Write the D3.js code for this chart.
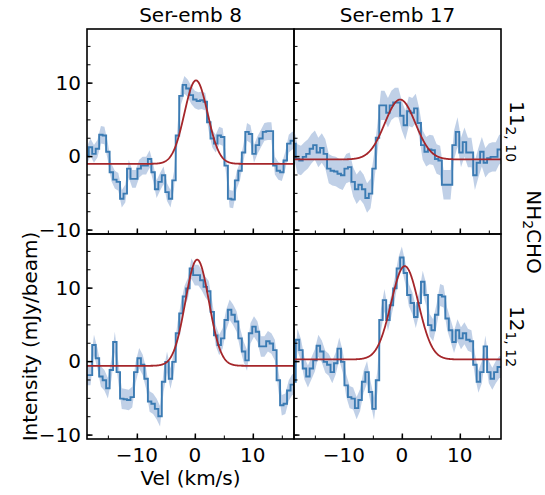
<!DOCTYPE html>
<html><head><meta charset="utf-8">
<script src="https://cdn.jsdelivr.net/npm/d3@7"></script>
<style>body{margin:0;background:#fff}text{font-family:"DejaVu Sans",sans-serif;fill:#000}</style>
</head><body><svg id="c" width="545" height="495"></svg>
<script>
const sources = ["Ser-emb 8", "Ser-emb 17"];
const transitions = [["11", "2, 10"], ["12", "1, 12"]];
const molecule = ["NH", "2", "CHO"];
const channels = [-18.6,-18.0,-17.4,-16.8,-16.2,-15.6,-15.0,-14.4,-13.8,-13.2,-12.6,-12.0,-11.4,-10.8,-10.2,-9.6,-9.0,-8.4,-7.8,-7.2,-6.6,-6.0,-5.4,-4.8,-4.2,-3.6,-3.0,-2.4,-1.8,-1.2,-0.6,0,0.6,1.2,1.8,2.4,3.0,3.6,4.2,4.8,5.4,6.0,6.6,7.2,7.8,8.4,9.0,9.6,10.2,10.8,11.4,12.0,12.6,13.2,13.8,14.4,15.0,15.6,16.2,16.8,17.4];
// spectra (mJy/beam)
const emb8_11 = [0.1,1.2,0.3,1.0,2.9,2.8,0.6,-2.2,-3.2,-3.5,-5.8,-5.1,-1.7,-3.1,-3.1,-1.7,-1.3,-1.3,-0.4,-2.2,-4.5,-3.5,-2.6,-4.9,-5.8,-3.3,2.8,8.2,9.7,9.2,8.3,7.7,7.5,7.6,7.4,4.6,2.4,1.7,2.8,2.6,-1.3,-5.8,-5.9,-3.3,-2.0,0.5,3.3,3.0,0.3,1.5,2.4,3.3,3.4,3.4,-1.3,-2.0,-2.2,-0.6,1.7,2.1,2.1];
const emb17_11 = [1.7,-0.4,-0.6,-0.1,0.3,1.0,1.5,0.5,1.1,0.3,-1.7,-2.0,-2.1,-2.4,-2.6,-1.7,-1.5,-3.5,-4.5,-3.9,-4.5,-5.7,-5.1,-1.7,2.5,6.9,6.9,5.9,6.9,7.3,7.3,5.5,4.2,6.1,5.9,6.5,4.5,1.5,0.6,0.9,0.8,-0.4,-0.6,-3.9,-3.9,-3.9,1.5,3.3,0.5,1.9,0.5,0.5,-2.6,-0.9,0.6,-0.9,-0.3,-0.1,-0.1,0.9,0.9];
const emb8_12 = [-1.9,-1.9,2.2,0.4,-2.1,-2.6,-3.7,-1.2,2.6,-1.5,-5.1,-5.2,-5.3,-4.9,-1.5,0.4,-0.5,-2.4,-5.5,-5.8,-6.5,-7.5,-2.8,-0.1,-2.4,-0.1,3.8,6.5,8.8,9.9,12.6,11.7,11.7,11.0,10.1,9.5,6.7,3.5,2.2,3.1,5.6,7.0,6.3,5.4,3.1,1.3,0.1,3.8,4.7,4.0,2.0,2.0,2.7,2.4,1.5,-2.6,-6.0,-5.8,-4.0,-3.2,-3.2];
const emb17_12 = [-2.8,2.9,1.5,-1.0,-2.1,-1.0,0.1,2.1,1.3,-0.1,-0.5,-1.5,-0.3,1.7,-0.1,-3.3,-4.9,-5.1,-6.4,-5.3,-2.8,-1.5,-4.2,-6.5,-2.6,5.6,8.3,5.6,7.6,9.9,12.6,14.1,12.0,9.0,7.9,6.0,7.9,10.8,9.0,4.9,4.2,6.3,9.0,8.8,5.8,4.2,2.6,4.2,3.1,3.8,2.9,2.7,-0.5,-2.8,-1.5,2.0,-1.5,-2.4,-1.5,-0.8,-0.8];
const noise = [1.2, 2.0, 1.4, 1.5];
// Gaussian fit parameters: amplitude, centre (km/s), sigma (km/s), baseline
const fitAmp = [11.35, 8.15, 14.45, 12.7];
const fitCenter = [0.2, -0.3, 0.4, 0.5];
const fitSigma = [2.0, 2.63, 2.03, 2.35];
const fitBase = [-1.05, -0.45, -0.64, 0.23];
const xTicks = [-10, 0, 10];
const xMinor = [-15, -10, -5, 0, 5, 10, 15];
const yTicks = [-10, 0, 10];
const yMinor = [-10, -7.5, -5, -2.5, 0, 2.5, 5, 7.5, 10, 12.5, 15];

const spectra = [emb8_11, emb17_11, emb8_12, emb17_12];
const svg = d3.select("#c");
const colX = [87, 294], rowY = [29, 234], pw = 207, ph = 205;
const fs = 20;
const lineColor = "#3b7bb3", bandColor = "#aec3e0", fitColor = "#a5262a";

for (let r = 0; r < 2; r++) for (let c = 0; c < 2; c++) {
  const k = r * 2 + c;
  const x = d3.scaleLinear().domain([-18.6, 17.1]).range([colX[c], colX[c] + pw]);
  const y = d3.scaleLinear().domain([-10.6, 17.3]).range([rowY[r] + ph, rowY[r]]);
  const g = svg.append("g");
  const cid = "clip" + k;
  g.append("clipPath").attr("id", cid).append("rect")
    .attr("x", colX[c]).attr("y", rowY[r]).attr("width", pw).attr("height", ph);
  const pg = g.append("g").attr("clip-path", `url(#${cid})`);
  const data = channels.map((v, i) => ({v, f: spectra[k][i]}));
  pg.append("path").datum(data)
    .attr("d", d3.area().x(d => x(d.v)).y0(d => y(d.f - noise[k])).y1(d => y(d.f + noise[k])))
    .attr("fill", bandColor).attr("opacity", 0.78);
  pg.append("path").datum(data)
    .attr("d", d3.line().curve(d3.curveStep).x(d => x(d.v)).y(d => y(d.f)))
    .attr("fill", "none").attr("stroke", lineColor).attr("stroke-width", 1.9);
  const fine = d3.range(-18.6, 17.2, 0.05).map(v => ({v,
    f: fitBase[k] + fitAmp[k] * Math.exp(-((v - fitCenter[k]) ** 2) / (2 * fitSigma[k] ** 2))}));
  pg.append("path").datum(fine)
    .attr("d", d3.line().x(d => x(d.v)).y(d => y(d.f)))
    .attr("fill", "none").attr("stroke", fitColor).attr("stroke-width", 1.8);

  // axes (inward ticks)
  const xa = g.append("g").attr("transform", `translate(0,${rowY[r] + ph})`);
  xa.call(d3.axisBottom(x).tickValues(xMinor).tickSize(-3.5).tickFormat(""));
  xa.append("g").call(d3.axisBottom(x).tickValues(xTicks).tickSize(-5.5).tickFormat(""))
    .selectAll("line").attr("stroke-width", 1.5);
  xa.selectAll(".domain").remove();
  const ya = g.append("g").attr("transform", `translate(${colX[c]},0)`);
  ya.call(d3.axisLeft(y).tickValues(yMinor).tickSize(-3.5).tickFormat(""));
  ya.append("g").call(d3.axisLeft(y).tickValues(yTicks).tickSize(-5.5).tickFormat(""))
    .selectAll("line").attr("stroke-width", 1.5);
  ya.selectAll(".domain").remove();
  g.selectAll(".tick line").attr("stroke", "#000");

  if (c === 0) {
    yTicks.forEach(t => g.append("text").attr("x", colX[c] - 6).attr("y", y(t))
      .attr("dy", "0.36em").attr("text-anchor", "end").attr("font-size", fs)
      .text(String(t).replace("-", "\u2212")));
  }
  if (r === 1) {
    xTicks.forEach(t => g.append("text").attr("x", x(t)).attr("y", rowY[r] + ph + 23)
      .attr("text-anchor", "middle").attr("font-size", fs)
      .text(String(t).replace("-", "\u2212")));
  }
  g.append("rect").attr("x", colX[c]).attr("y", rowY[r]).attr("width", pw).attr("height", ph)
    .attr("fill", "none").attr("stroke", "#000").attr("stroke-width", 1.6);
}

// titles
sources.forEach((s, c) => svg.append("text").attr("x", colX[c] + pw / 2).attr("y", 22)
  .attr("text-anchor", "middle").attr("font-size", fs).text(s));
// axis labels
svg.append("text").attr("x", colX[0] + pw / 2).attr("y", 485).attr("text-anchor", "middle")
  .attr("font-size", fs).text("Vel (km/s)");
svg.append("text").attr("transform", `translate(37,${rowY[1] + ph / 2}) rotate(-90)`)
  .attr("text-anchor", "middle").attr("font-size", fs).text("Intensity (mJy/beam)");
// row labels
transitions.forEach((t, r) => {
  const tx = svg.append("text").attr("transform", `translate(510,${rowY[r] + ph / 2}) rotate(90)`)
    .attr("text-anchor", "middle").attr("font-size", fs);
  tx.append("tspan").text(t[0]);
  tx.append("tspan").attr("font-size", 14).attr("dy", 4).text(t[1]);
});
const mt = svg.append("text").attr("transform", `translate(527,232) rotate(90)`)
  .attr("text-anchor", "middle").attr("font-size", fs);
mt.append("tspan").text(molecule[0]);
mt.append("tspan").attr("font-size", 14).attr("dy", 4).text(molecule[1]);
mt.append("tspan").attr("dy", -4).text(molecule[2]);
</script></body></html>
